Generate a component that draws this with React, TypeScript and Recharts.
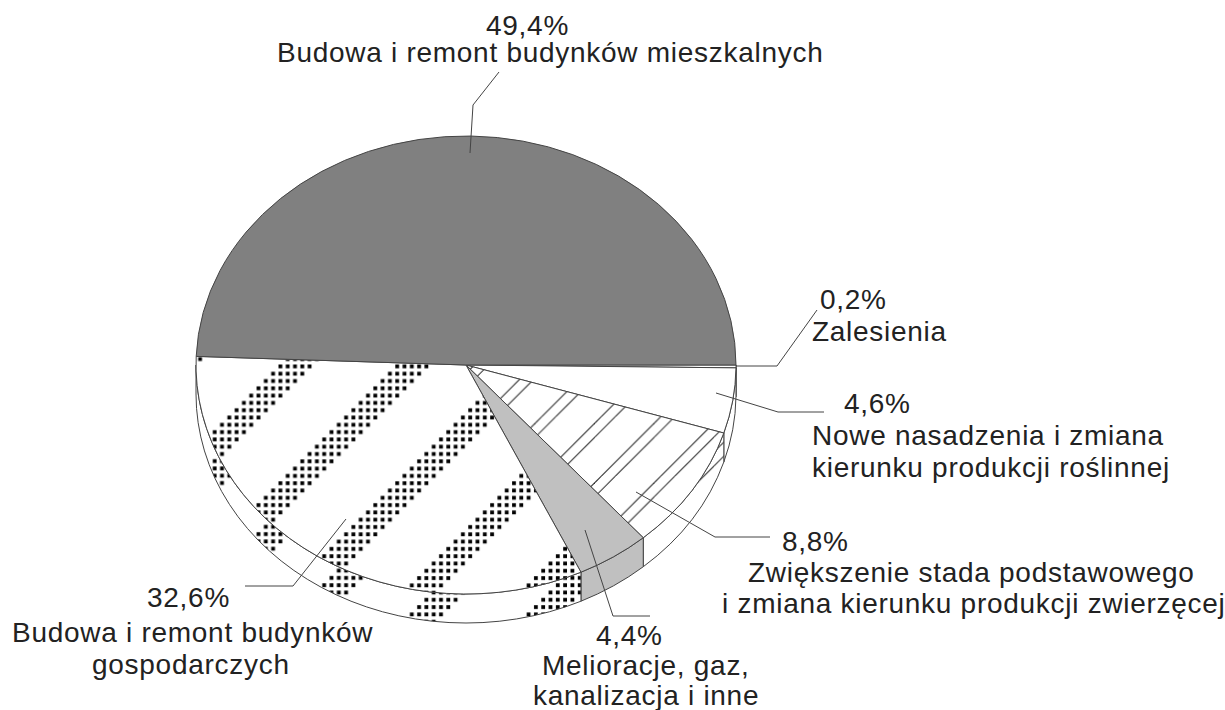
import { Pie, PieChart } from 'recharts';

const values = [0.2, 4.6, 8.8, 4.4, 32.6, 49.4];
const valueLabels = ['0,2%', '4,6%', '8,8%', '4,4%', '32,6%', '49,4%'];
const categories = [
  ['Zalesienia'],
  ['Nowe nasadzenia i zmiana', 'kierunku produkcji roślinnej'],
  ['Zwiększenie stada podstawowego', 'i zmiana kierunku produkcji zwierzęcej'],
  ['Melioracje, gaz,', 'kanalizacja i inne'],
  ['Budowa i remont budynków', 'gospodarczych'],
  ['Budowa i remont budynków mieszkalnych'],
];

// face fill and side wall fill for each slice
const faceFills = ['#ffffff', '#ffffff', 'url(#hatch)', '#c0c0c0', 'url(#dots)', '#808080'];
const wallFills = ['#ffffff', '#ffffff', 'url(#hatchWall)', '#c0c0c0', 'url(#dotsWall)', '#808080'];

// label blocks: left x of each text line, baselines, leader polyline
const labelLayout = [
  { xs: [820, 812], ys: [309, 341], leader: '736,366 777,366 817,310' },
  { xs: [844, 812, 812], ys: [413, 445, 477], leader: '716,393 778,412 824,412' },
  { xs: [782, 748, 722], ys: [551, 582, 613], leader: '636,492 715,537 770,537' },
  { xs: [596, 542, 533], ys: [645, 675, 705], leader: '585,530 613,616 650,616' },
  { xs: [147, 12, 92], ys: [607, 642, 674], leader: '346,519 293,586 245,586' },
  { xs: [486, 277], ys: [35, 62], leader: '470,153 473,105 499,72' },
];

const RX = 270;
const RY = 229;
const DEPTH = 29;
const DOT_CELL = 7.3;
const HATCH = 59.5;

const chartData = values.map((value, i) => ({ name: categories[i].join(' '), value }));

function SliceShape(props: any) {
  const { cx, cy, startAngle, endAngle, index } = props;
  const t0 = -startAngle;
  const t1 = -endAngle;
  const pt = (t: number, dy = 0) => {
    const a = (t * Math.PI) / 180;
    return `${cx + RX * Math.cos(a)},${cy + RY * Math.sin(a) + dy}`;
  };
  const large = t1 - t0 > 180 ? 1 : 0;
  const a = Math.max(t0, 0);
  const b = Math.min(t1, 180);
  return (
    <g>
      {b > a && (
        <path
          d={`M${pt(a)} A${RX} ${RY} 0 0 1 ${pt(b)} L${pt(b, DEPTH)} A${RX} ${RY} 0 0 0 ${pt(a, DEPTH)} Z`}
          fill={wallFills[index]}
          stroke="#444"
          strokeWidth={1}
        />
      )}
      <path
        d={`M${cx},${cy} L${pt(t0)} A${RX} ${RY} 0 ${large} 1 ${pt(t1)} Z`}
        fill={faceFills[index]}
        stroke="#444"
        strokeWidth={1}
      />
    </g>
  );
}

function SliceLabel(props: any) {
  const { index } = props;
  const layout = labelLayout[index];
  const lines = [valueLabels[index], ...categories[index]];
  return (
    <g>
      <polyline points={layout.leader} fill="none" stroke="#444" strokeWidth={1} />
      {lines.map((line, i) => (
        <text
          key={line}
          x={layout.xs[i]}
          y={layout.ys[i]}
          textAnchor="start"
          fontFamily="'Liberation Sans', Arial, sans-serif"
          fontSize={28}
          letterSpacing={0.72}
          fill="#222"
        >
          {line}
        </text>
      ))}
    </g>
  );
}

function DotsPattern({ id, y }: { id: string; y: number }) {
  const cells = [];
  for (let i = 0; i < 16; i++) {
    for (let j = 0; j < 16; j++) {
      if ((i + j) % 16 < 5) {
        cells.push(<rect key={`${i}-${j}`} x={i * DOT_CELL} y={j * DOT_CELL} width={3.8} height={3.8} fill="#000" />);
      }
    }
  }
  return (
    <pattern id={id} patternUnits="userSpaceOnUse" x={278.5} y={y} width={16 * DOT_CELL} height={16 * DOT_CELL}>
      <rect width={16 * DOT_CELL} height={16 * DOT_CELL} fill="#fff" />
      {cells}
    </pattern>
  );
}

function HatchPattern({ id, y }: { id: string; y: number }) {
  const offsets = [6.5, 20.5, 6.5 + HATCH, 20.5 + HATCH];
  return (
    <pattern id={id} patternUnits="userSpaceOnUse" x={0} y={y} width={HATCH} height={HATCH}>
      <rect width={HATCH} height={HATCH} fill="#fff" />
      {offsets.map((c) => (
        <line key={c} x1={c} y1={0} x2={0} y2={c} stroke="#222" strokeWidth={1} />
      ))}
    </pattern>
  );
}

export default function App() {
  return (
    <div style={{ position: 'absolute', left: 0, top: 0, width: 1225, height: 710, overflow: 'hidden', background: '#fff' }}>
      <PieChart width={1225} height={710} margin={{ top: 0, right: 0, bottom: 0, left: 0 }}>
        <defs>
          <DotsPattern id="dots" y={364.5} />
          <DotsPattern id="dotsWall" y={364.5 + DEPTH} />
          <HatchPattern id="hatch" y={0} />
          <HatchPattern id="hatchWall" y={DEPTH} />
        </defs>
        <Pie
          data={chartData}
          dataKey="value"
          nameKey="name"
          cx={466}
          cy={365}
          outerRadius={RX}
          startAngle={0}
          endAngle={-360}
          stroke="none"
          shape={SliceShape}
          label={SliceLabel}
          labelLine={false}
          isAnimationActive={false}
        />
      </PieChart>
    </div>
  );
}
